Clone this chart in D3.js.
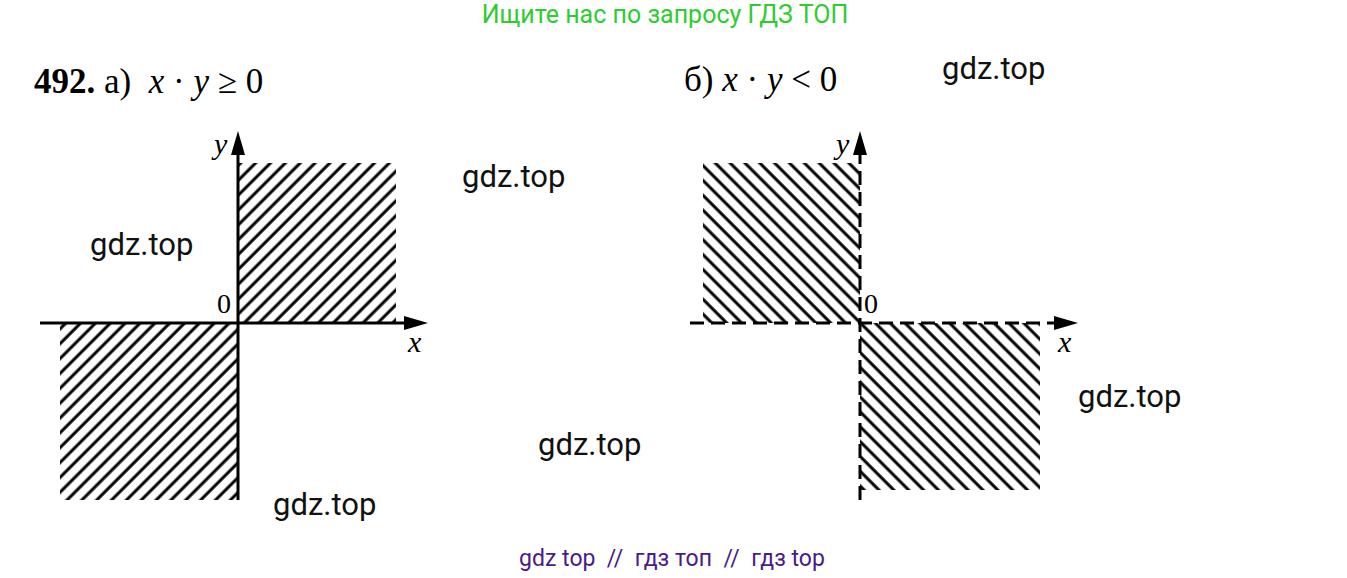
<!DOCTYPE html>
<html><head><meta charset="utf-8">
<script src="https://cdn.jsdelivr.net/npm/d3@7"></script>
<style>body{margin:0;background:#fff}</style>
</head><body>
<script>
// shaded quadrants [x0, x1, y0, y1] in axis units, per panel
const quadsA = [[0, 7.9, 0, 8], [-8.9, 0, -8.85, 0]]
const quadsB = [[-7.85, 0, 0, 8], [0, 9, -8.35, 0]]
const axisXA = [-9.9, 9.5], axisYA = [-8.85, 9.6]
const axisXB = [-8.5, 10.9], axisYB = [-8.85, 9.6]
const watermarks = [[462, 187], [90, 255], [273, 515], [538, 455], [942, 79], [1078, 407]]

const svg = d3.select('body').append('svg').attr('width', 1347).attr('height', 578)
const defs = svg.append('defs')
function hatch (id, angle) {
  const p = defs.append('pattern').attr('id', id).attr('patternUnits', 'userSpaceOnUse')
    .attr('width', 10.5).attr('height', 10.5).attr('patternTransform', 'rotate(' + angle + ')')
  p.append('line').attr('x1', 2).attr('x2', 2).attr('y1', 0).attr('y2', 10.5)
    .attr('stroke', '#000').attr('stroke-width', 3)
}
hatch('hA', 45)
hatch('hB', -45)

function panel (ox, quads, ax, ay, pat, dashed) {
  const x = d3.scaleLinear().domain([-10, 10]).range([ox - 200, ox + 200])
  const y = d3.scaleLinear().domain([-10, 10]).range([523, 123])
  const g = svg.append('g')
  g.selectAll('rect.q').data(quads).join('rect').attr('class', 'q')
    .attr('x', d => x(d[0])).attr('width', d => x(d[1]) - x(d[0]))
    .attr('y', d => y(d[3])).attr('height', d => y(d[2]) - y(d[3]))
    .attr('fill', 'url(#' + pat + ')')
  const dash = dashed ? '14,7' : null
  g.append('line').attr('x1', x(ax[0])).attr('x2', x(ax[1]) - 18).attr('y1', y(0)).attr('y2', y(0))
    .attr('stroke', '#000').attr('stroke-width', 3).attr('stroke-dasharray', dash)
  g.append('line').attr('x1', x(0)).attr('x2', x(0)).attr('y1', y(ay[0])).attr('y2', y(ay[1]) + 18)
    .attr('stroke', '#000').attr('stroke-width', 3).attr('stroke-dasharray', dash)
  const X1 = x(ax[1]), Y1 = y(ay[1])
  g.append('path').attr('d', `M${X1},${y(0)}L${X1 - 24},${y(0) - 7}L${X1 - 24},${y(0) + 7}Z`)
  g.append('path').attr('d', `M${x(0)},${Y1}L${x(0) - 7},${Y1 + 24}L${x(0) + 7},${Y1 + 24}Z`)
  g.append('text').attr('x', x(0) - 24).attr('y', Y1 + 23).attr('font-style', 'italic').text('y')
    .attr('font-family', 'Liberation Serif').attr('font-size', 30)
  g.append('text').attr('x', X1 - 20).attr('y', y(0) + 29).attr('font-style', 'italic').text('x')
    .attr('font-family', 'Liberation Serif').attr('font-size', 30)
  return { x, y, g }
}
const a = panel(238, quadsA, axisXA, axisYA, 'hA', false)
const b = panel(860, quadsB, axisXB, axisYB, 'hB', true)
a.g.append('text').attr('x', 217).attr('y', 313).text('0').attr('font-family', 'Liberation Serif').attr('font-size', 28)
b.g.append('text').attr('x', 864).attr('y', 313).text('0').attr('font-family', 'Liberation Serif').attr('font-size', 28)

const ti = svg.append('text').attr('x', 34).attr('y', 93).attr('font-family', 'Liberation Serif').attr('font-size', 35)
  .attr('xml:space', 'preserve').style('white-space', 'pre')
ti.append('tspan').attr('font-weight', 'bold').text('492.')
ti.append('tspan').text(' а)  ')
ti.append('tspan').attr('font-style', 'italic').text('x')
ti.append('tspan').text(' · ')
ti.append('tspan').attr('font-style', 'italic').text('y')
ti.append('tspan').text(' ≥ 0')
const tb = svg.append('text').attr('x', 684).attr('y', 91).attr('font-family', 'Liberation Serif').attr('font-size', 35)
tb.append('tspan').text('б) ')
tb.append('tspan').attr('font-style', 'italic').text('x')
tb.append('tspan').text(' · ')
tb.append('tspan').attr('font-style', 'italic').text('y')
tb.append('tspan').text(' < 0')

svg.selectAll('text.wm').data(watermarks).join('text').attr('class', 'wm')
  .attr('x', d => d[0]).attr('y', d => d[1]).text('gdz.top')
  .attr('font-family', 'Roboto').attr('font-size', 31).attr('fill', '#111')

svg.append('text').attr('x', 665).attr('y', 23).attr('text-anchor', 'middle')
  .attr('font-family', 'Roboto').attr('font-size', 25).attr('fill', '#2ecc2e').text('Ищите нас по запросу ГДЗ ТОП')
svg.append('text').attr('x', 672).attr('y', 566).attr('text-anchor', 'middle')
  .attr('font-family', 'Roboto').attr('font-size', 23).attr('fill', '#4b1a8a').attr('xml:space', 'preserve')
  .style('white-space', 'pre').text('gdz top  //  гдз топ  //  гдз top')
</script>
</body></html>
